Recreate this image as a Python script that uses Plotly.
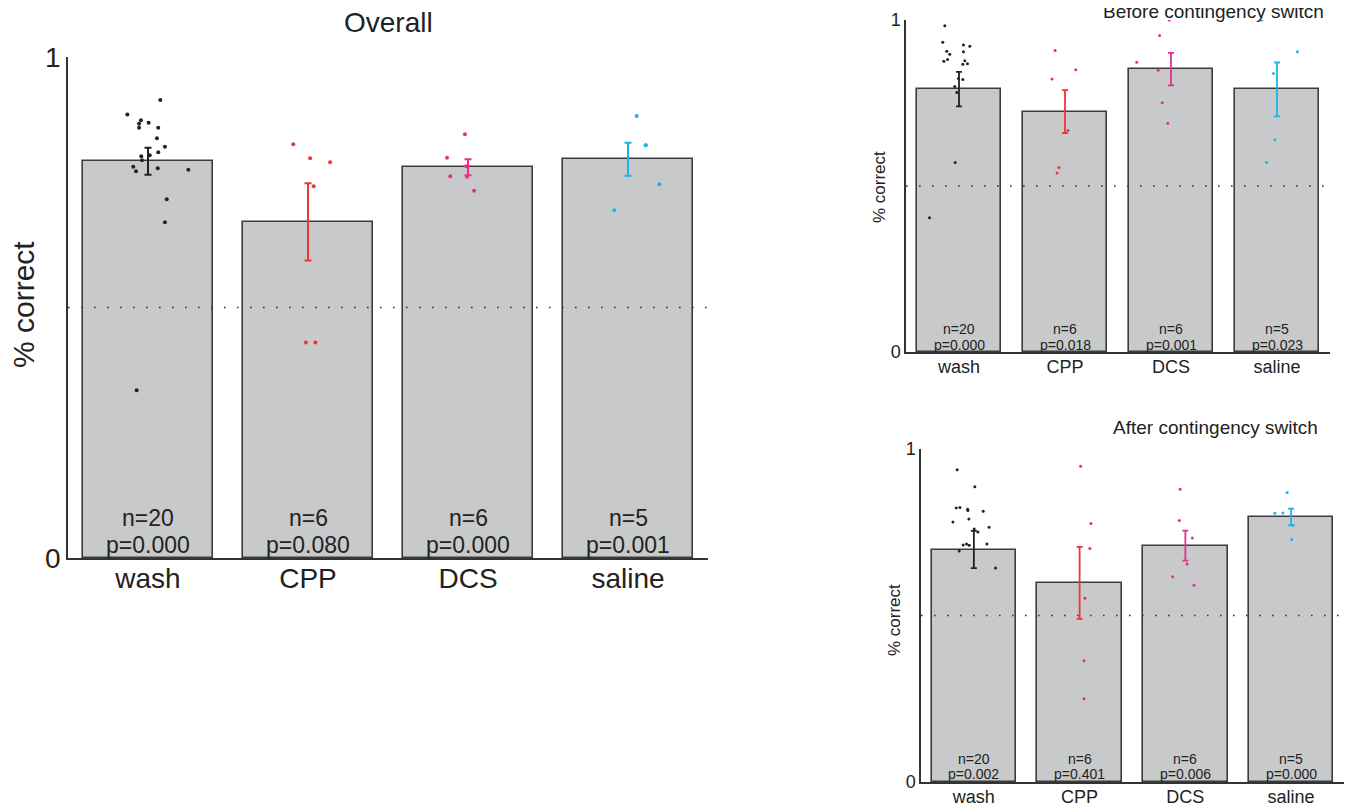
import plotly.graph_objects as go

groups = ["wash", "CPP", "DCS", "saline"]
group_pos = [1, 2, 3, 4]
colors = ["#222222", "#ee3535", "#e8308c", "#1ab4ea"]
chance = 0.5

# ---------- Overall ----------
ov_means = [0.792, 0.671, 0.780, 0.796]
ov_err = [0.027, 0.077, 0.016, 0.033]
ov_n = ["n=20", "n=6", "n=6", "n=5"]
ov_p = ["p=0.000", "p=0.080", "p=0.000", "p=0.001"]
ov_wash = [0.914, 0.885, 0.874, 0.867, 0.859, 0.869, 0.859, 0.838, 0.821, 0.810,
           0.804, 0.802, 0.794, 0.781, 0.772, 0.778, 0.775, 0.716, 0.670, 0.335]
ov_wash_dx = [0.077, -0.129, -0.044, -0.056, -0.056, 0.004, 0.064, 0.056, 0.106, 0.064,
              0.011, -0.042, -0.037, -0.092, -0.075, 0.061, 0.252, 0.117, 0.106, -0.071]
ov_cpp = [0.826, 0.798, 0.790, 0.742, 0.430, 0.430]
ov_cpp_dx = [-0.092, 0.013, 0.138, 0.036, -0.013, 0.046]
ov_dcs = [0.846, 0.799, 0.782, 0.762, 0.761, 0.733]
ov_dcs_dx = [-0.019, -0.131, -0.011, -0.111, -0.006, 0.038]
ov_sal = [0.882, 0.824, 0.824, 0.746, 0.694]
ov_sal_dx = [0.054, 0.111, 0.111, 0.196, -0.086]

# ---------- Before contingency switch ----------
be_means = [0.792, 0.724, 0.852, 0.791]
be_err = [0.052, 0.065, 0.049, 0.081]
be_n = ["n=20", "n=6", "n=6", "n=5"]
be_p = ["p=0.000", "p=0.018", "p=0.001", "p=0.023"]
be_wash = [0.983, 0.933, 0.925, 0.921, 0.906, 0.897, 0.904, 0.876, 0.881, 0.877,
           0.867, 0.868, 0.824, 0.821, 0.800, 0.782, 0.571, 0.404]
be_wash_dx = [-0.134, -0.153, 0.042, 0.102, -0.115, -0.087, 0.042, -0.143, -0.108, 0.055,
              0.036, 0.080, -0.005, 0.036, -0.040, -0.021, -0.036, -0.278]
be_cpp = [0.908, 0.850, 0.822, 0.667, 0.556, 0.539]
be_cpp_dx = [-0.094, 0.101, -0.123, 0.028, -0.057, -0.075]
be_dcs = [1.0, 0.953, 0.873, 0.849, 0.751, 0.689]
be_dcs_dx = [-0.017, -0.108, -0.323, -0.121, -0.083, -0.030]
be_sal = [1.0, 0.904, 0.839, 0.639, 0.571]
be_sal_dx = [-0.143, 0.193, -0.033, -0.021, -0.099]

# ---------- After contingency switch ----------
af_means = [0.698, 0.598, 0.710, 0.796]
af_err = [0.056, 0.108, 0.045, 0.025]
af_n = ["n=20", "n=6", "n=6", "n=5"]
af_p = ["p=0.002", "p=0.401", "p=0.006", "p=0.000"]
af_wash = [0.938, 0.887, 0.823, 0.824, 0.819, 0.815, 0.813, 0.790, 0.781, 0.765,
           0.760, 0.751, 0.715, 0.712, 0.715, 0.711, 0.694, 0.643]
af_wash_dx = [-0.158, 0.009, -0.167, -0.132, -0.059, -0.057, 0.088, -0.047, -0.198, 0.144,
              0.003, 0.038, 0.123, -0.101, -0.069, -0.044, -0.139, 0.205]
af_cpp = [0.948, 0.776, 0.701, 0.552, 0.364, 0.250]
af_cpp_dx = [0.009, 0.107, 0.097, 0.050, 0.041, 0.041]
af_dcs = [0.879, 0.785, 0.733, 0.655, 0.616, 0.591]
af_dcs_dx = [-0.050, -0.057, 0.066, 0.016, -0.120, 0.082]
af_sal = [0.869, 0.807, 0.808, 0.771, 0.728]
af_sal_dx = [-0.038, -0.154, -0.078, 0.019, 0.006]

FONT = "Liberation Sans"
TXT = "#222222"
OFF = 8                      # page body margin of the browser
W, H = 1355 - OFF, 809 - OFF

fig = go.Figure()


def add_panel(ax, means, err, ns, ps, pts, bar_w, msize, ew, cap, npfont, ny, py):
    xa = "x" if ax == 1 else f"x{ax}"
    ya = "y" if ax == 1 else f"y{ax}"
    fig.add_trace(go.Bar(x=group_pos, y=means, width=bar_w, xaxis=xa, yaxis=ya,
                         marker=dict(color="#c8c9cb", line=dict(color="#3c3c3c", width=1.6)),
                         showlegend=False, hoverinfo="skip"))
    fig.add_trace(go.Scatter(x=[0.5, 4.5], y=[chance, chance], xaxis=xa, yaxis=ya, mode="lines",
                             line=dict(color="#333333", width=1.6, dash="1.6px,11.4px"),
                             showlegend=False, hoverinfo="skip"))
    for i, (vals, dx) in enumerate(pts):
        fig.add_trace(go.Scatter(x=[group_pos[i]], y=[means[i]], xaxis=xa, yaxis=ya,
                                 mode="markers", marker=dict(size=1, color=colors[i]),
                                 error_y=dict(type="data", array=[err[i]], color=colors[i],
                                              thickness=ew, width=cap),
                                 showlegend=False, hoverinfo="skip"))
        fig.add_trace(go.Scatter(x=[group_pos[i] + d for d in dx], y=vals, xaxis=xa, yaxis=ya,
                                 mode="markers", marker=dict(size=msize, color=colors[i]),
                                 showlegend=False, hoverinfo="skip"))
    for i in range(4):
        fig.add_annotation(x=group_pos[i], y=ny, xref=xa, yref=ya, text=ns[i], showarrow=False,
                           font=dict(family=FONT, size=npfont, color=TXT),
                           xanchor="center", yanchor="middle")
        fig.add_annotation(x=group_pos[i], y=py, xref=xa, yref=ya, text=ps[i], showarrow=False,
                           font=dict(family=FONT, size=npfont, color=TXT),
                           xanchor="center", yanchor="middle")


add_panel(1, ov_means, ov_err, ov_n, ov_p,
          [(ov_wash, ov_wash_dx), (ov_cpp, ov_cpp_dx), (ov_dcs, ov_dcs_dx), (ov_sal, ov_sal_dx)],
          0.81, 4, 2, 3.5, 23, 0.080, 0.026)
add_panel(2, be_means, be_err, be_n, be_p,
          [(be_wash, be_wash_dx), (be_cpp, be_cpp_dx), (be_dcs, be_dcs_dx), (be_sal, be_sal_dx)],
          0.8, 3, 1.8, 3, 14, 0.069, 0.021)
add_panel(3, af_means, af_err, af_n, af_p,
          [(af_wash, af_wash_dx), (af_cpp, af_cpp_dx), (af_dcs, af_dcs_dx), (af_sal, af_sal_dx)],
          0.8, 3, 1.8, 3, 14, 0.068, 0.023)


def px_x(p):
    return (p - OFF) / W


def px_y(p):
    return (H - (p - OFF)) / H


def xaxis(dom, fs, standoff):
    return dict(domain=dom, range=[0.5, 4.5], tickvals=group_pos, ticktext=groups,
                showline=True, linecolor="#333333", linewidth=1.5, ticks="", showgrid=False,
                zeroline=False, tickfont=dict(family=FONT, size=fs, color=TXT), fixedrange=True,
                automargin=False, ticklabelstandoff=standoff)


def yaxis(dom, fs, anchor):
    return dict(domain=dom, range=[0, 1], tickvals=[0, 1], ticktext=["0", "1"],
                showline=True, linecolor="#333333", linewidth=1.5, ticks="inside", ticklen=6,
                tickcolor="#333333", tickwidth=1.5, showgrid=False, zeroline=False,
                tickfont=dict(family=FONT, size=fs, color=TXT), anchor=anchor, fixedrange=True,
                automargin=False)


fig.update_layout(
    width=W, height=H, margin=dict(l=0, r=0, t=0, b=0, autoexpand=False),
    paper_bgcolor="white", plot_bgcolor="white", bargap=0,
    font=dict(family=FONT, color=TXT),
    xaxis=dict(xaxis(dom=[px_x(68), px_x(708)], fs=28, standoff=-5), anchor="y"),
    yaxis=yaxis([px_y(558), px_y(57)], 28, "x"),
    xaxis2=dict(xaxis(dom=[px_x(906), px_x(1330)], fs=18, standoff=-2), anchor="y2"),
    yaxis2=yaxis([px_y(352), px_y(20)], 18, "x2"),
    xaxis3=dict(xaxis(dom=[px_x(921), px_x(1344)], fs=18, standoff=-2), anchor="y3"),
    yaxis3=yaxis([px_y(782), px_y(449)], 18, "x3"),
)


def label(x, y, text, size, angle=0):
    fig.add_annotation(x=px_x(x), y=px_y(y), xref="paper", yref="paper", text=text,
                       showarrow=False, textangle=angle, xanchor="center", yanchor="middle",
                       font=dict(family=FONT, size=size, color=TXT))


label(388, 22, "Overall", 28)
label(1213, 11, "Before contingency switch", 19)
label(1215, 428, "After contingency switch", 19)
label(23, 305, "% correct", 30, -90)
label(879, 187, "% correct", 17, -90)
label(894, 620, "% correct", 17, -90)

fig.write_html("out.html")
